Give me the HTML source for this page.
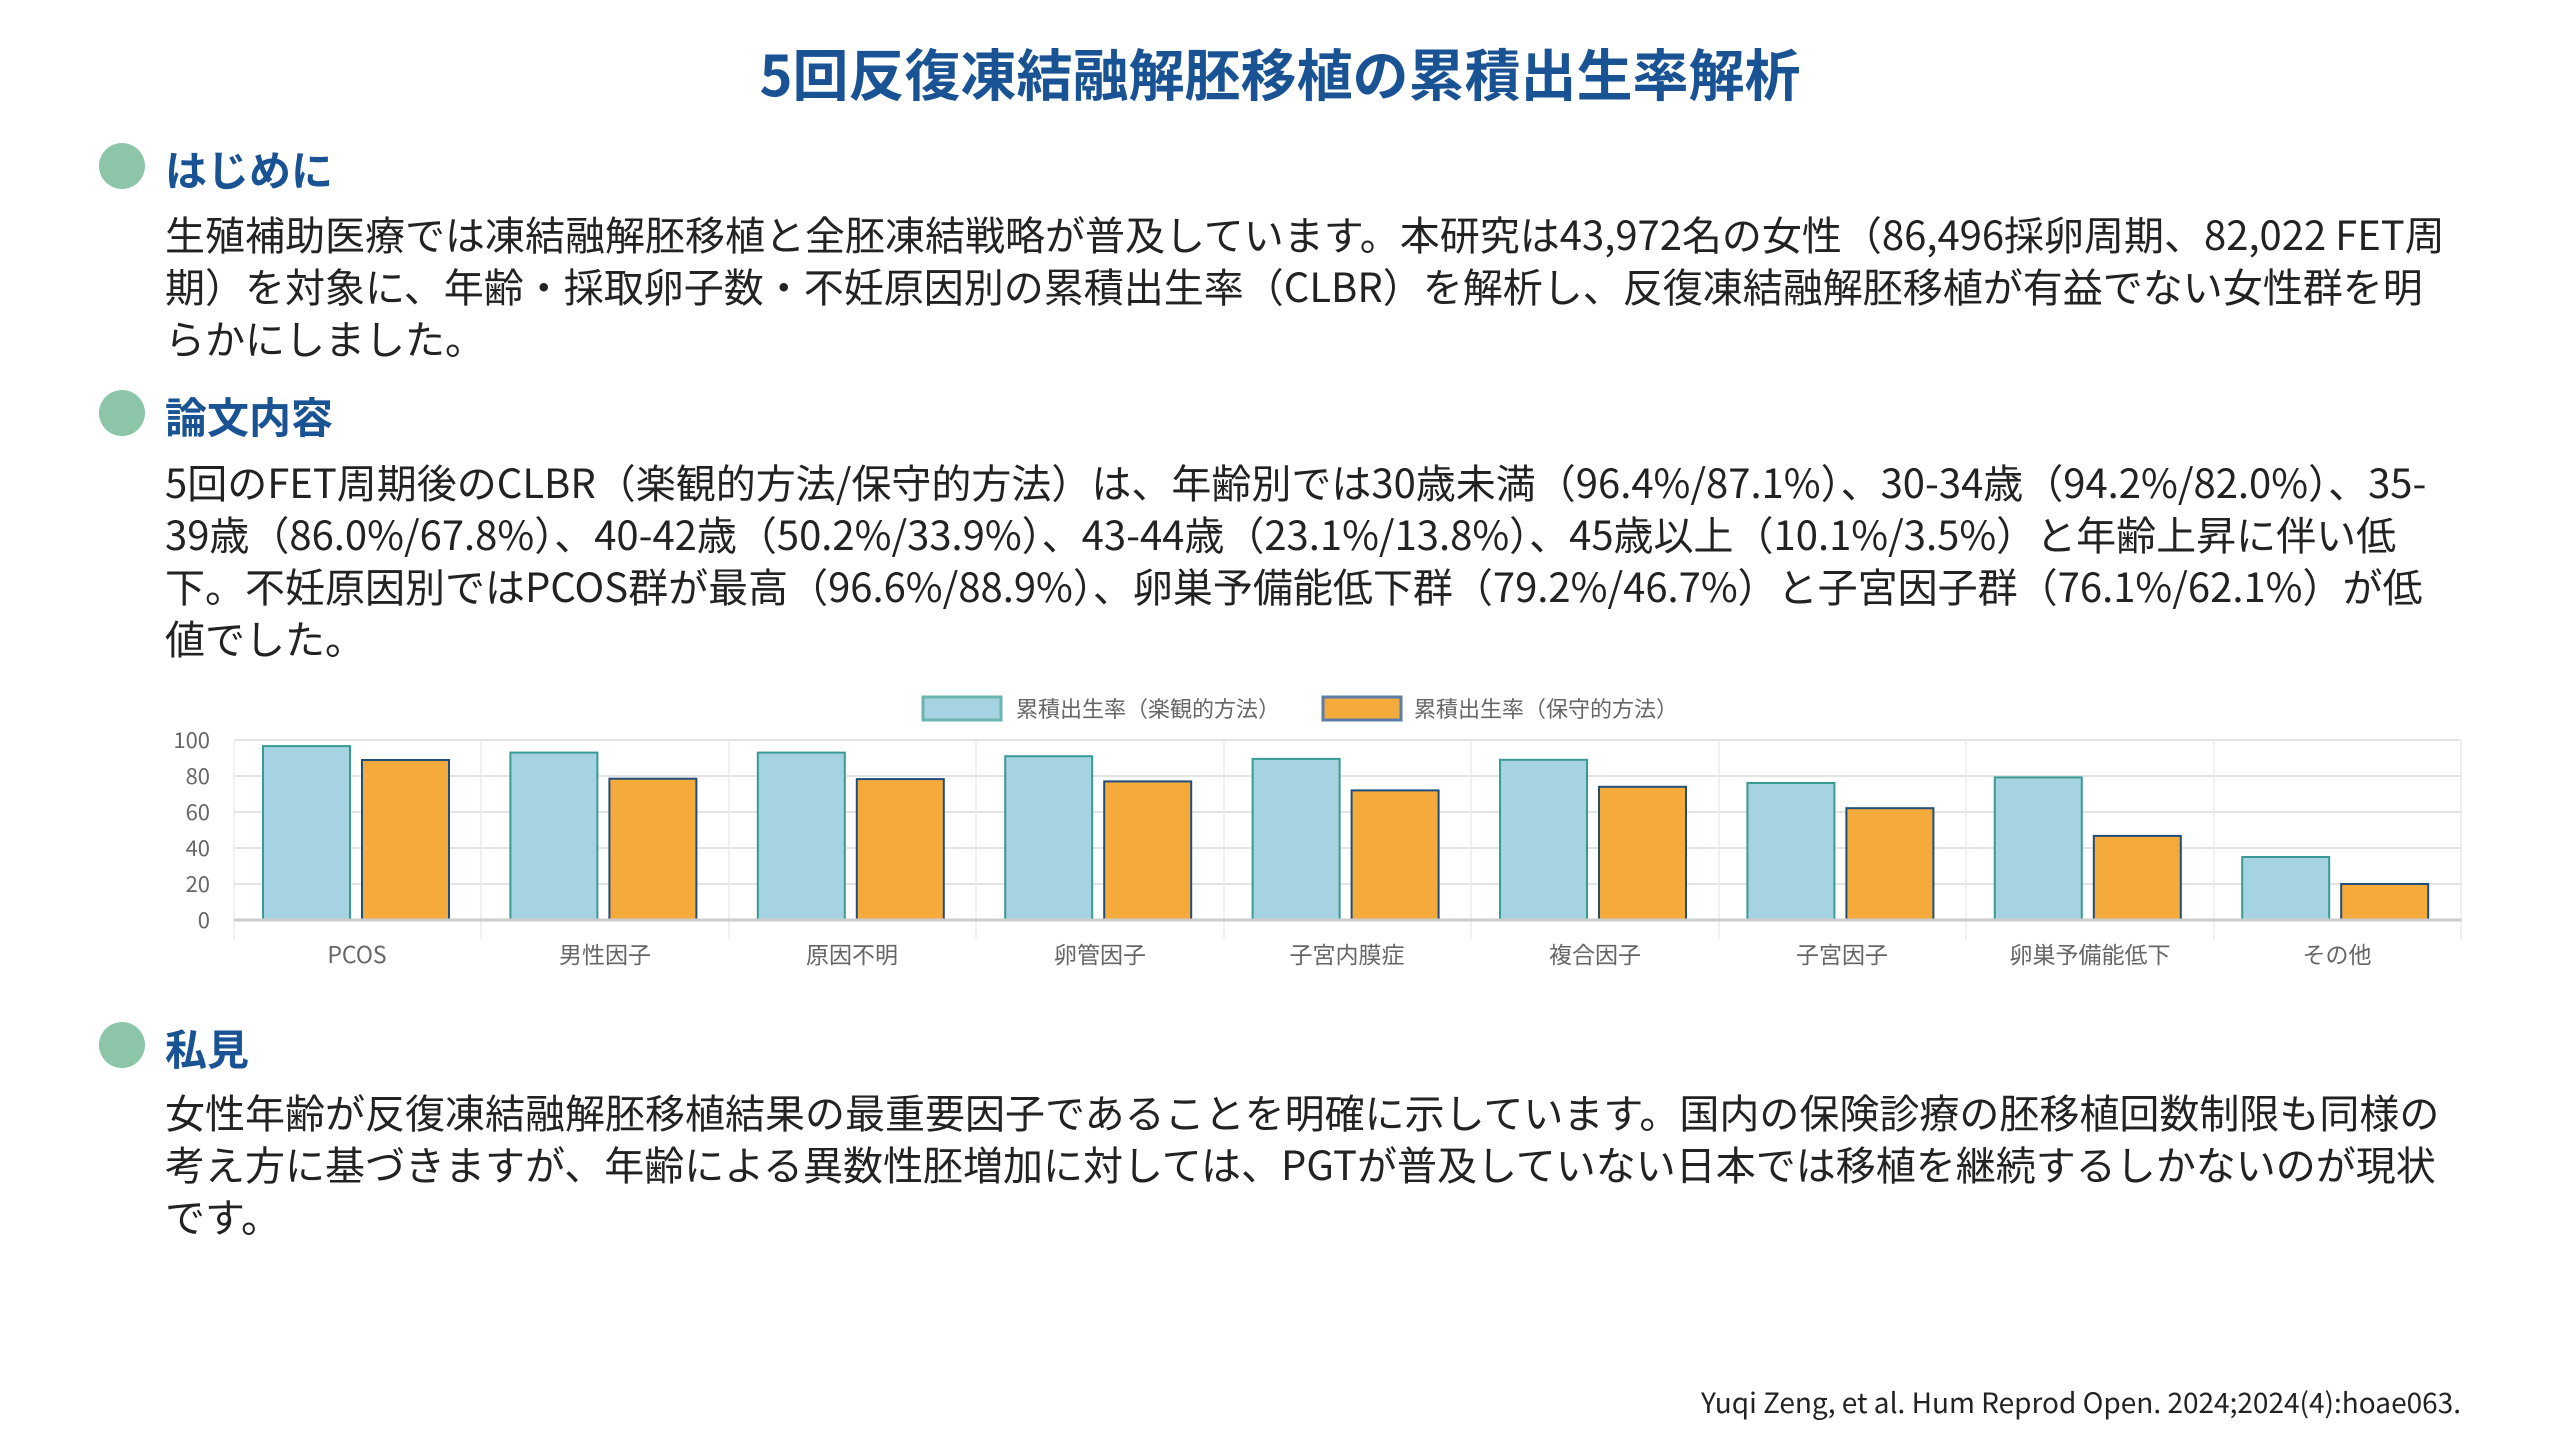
<!DOCTYPE html>
<html><head><meta charset="utf-8"><style>
html,body{margin:0;padding:0;background:#fff;}
body{width:2560px;height:1440px;position:relative;overflow:hidden;font-family:"Noto Sans CJK JP","Liberation Sans",sans-serif;}
.t{position:absolute;white-space:nowrap;}
.title{left:0;width:2560px;text-align:center;top:32px;font-size:56px;font-weight:bold;color:#1a5394;}
.dot{position:absolute;left:99px;width:46px;height:46px;border-radius:50%;background:#8cc5a8;}
.h{font-size:42px;font-weight:bold;color:#1a5394;left:165px;}
.b{font-size:40px;color:#222;left:165px;line-height:52px;}
</style></head><body>
<div class="t title">5回反復凍結融解胚移植の累積出生率解析</div>

<div class="dot" style="top:143px"></div>
<div class="t h" style="top:138px">はじめに</div>
<div class="t b" style="top:207px">生殖補助医療では凍結融解胚移植と全胚凍結戦略が普及しています。本研究は43,972名の女性（86,496採卵周期、82,022 FET周<br>期）を対象に、年齢・採取卵子数・不妊原因別の累積出生率（CLBR）を解析し、反復凍結融解胚移植が有益でない女性群を明<br>らかにしました。</div>

<div class="dot" style="top:390px"></div>
<div class="t h" style="top:385px">論文内容</div>
<div class="t b" style="top:455px">5回のFET周期後のCLBR（楽観的方法/保守的方法）は、年齢別では30歳未満（96.4%/87.1%）、30-34歳（94.2%/82.0%）、35-<br>39歳（86.0%/67.8%）、40-42歳（50.2%/33.9%）、43-44歳（23.1%/13.8%）、45歳以上（10.1%/3.5%）と年齢上昇に伴い低<br>下。不妊原因別ではPCOS群が最高（96.6%/88.9%）、卵巣予備能低下群（79.2%/46.7%）と子宮因子群（76.1%/62.1%）が低<br>値でした。</div>

<svg style="position:absolute;left:0;top:680px" width="2560" height="300" xmlns="http://www.w3.org/2000/svg" font-family="Noto Sans CJK JP, Liberation Sans, sans-serif">
<rect x="923" y="17" width="78" height="23" fill="#a6d3e2" stroke="#6bb5b0" stroke-width="3"/>
<text x="1016" y="37" font-size="22" fill="#666">累積出生率（楽観的方法）</text>
<rect x="1323" y="17" width="78" height="23" fill="#f5ab3c" stroke="#5a7ea8" stroke-width="3"/>
<text x="1414" y="37" font-size="22" fill="#666">累積出生率（保守的方法）</text>
<g stroke="#e4e4e4" stroke-width="2">
<line x1="234" y1="60" x2="2461" y2="60"/><line x1="234" y1="96" x2="2461" y2="96"/><line x1="234" y1="132" x2="2461" y2="132"/><line x1="234" y1="168" x2="2461" y2="168"/><line x1="234" y1="204" x2="2461" y2="204"/>
</g>
<g stroke="#ececec" stroke-width="1.5">
<line x1="234" y1="60" x2="234" y2="260"/><line x1="481" y1="60" x2="481" y2="260"/><line x1="729" y1="60" x2="729" y2="260"/><line x1="976" y1="60" x2="976" y2="260"/><line x1="1224" y1="60" x2="1224" y2="260"/><line x1="1471" y1="60" x2="1471" y2="260"/><line x1="1719" y1="60" x2="1719" y2="260"/><line x1="1966" y1="60" x2="1966" y2="260"/><line x1="2214" y1="60" x2="2214" y2="260"/><line x1="2461" y1="60" x2="2461" y2="260"/>
</g>
<g font-size="22" fill="#666" text-anchor="end">
<text x="210" y="68">100</text><text x="210" y="104">80</text><text x="210" y="140">60</text><text x="210" y="176">40</text><text x="210" y="212">20</text><text x="210" y="248">0</text>
</g>
<g fill="#a6d3e2" stroke="#3a9a94" stroke-width="2">
<rect x="263" y="66.1" width="87" height="173.9"/>
<rect x="510.4" y="72.6" width="87" height="167.4"/>
<rect x="757.8" y="72.6" width="87" height="167.4"/>
<rect x="1005.2" y="76.2" width="87" height="163.8"/>
<rect x="1252.6" y="78.9" width="87" height="161.1"/>
<rect x="1500" y="79.8" width="87" height="160.2"/>
<rect x="1747.4" y="103" width="87" height="137"/>
<rect x="1994.8" y="97.4" width="87" height="142.6"/>
<rect x="2242.2" y="177" width="87" height="63"/>
</g>
<g fill="#f5ab3c" stroke="#1f4e79" stroke-width="2">
<rect x="362" y="80" width="87" height="160"/>
<rect x="609.4" y="98.7" width="87" height="141.3"/>
<rect x="856.8" y="99.1" width="87" height="140.9"/>
<rect x="1104.2" y="101.4" width="87" height="138.6"/>
<rect x="1351.6" y="110.4" width="87" height="129.6"/>
<rect x="1599" y="106.8" width="87" height="133.2"/>
<rect x="1846.4" y="128.2" width="87" height="111.8"/>
<rect x="2093.8" y="155.9" width="87" height="84.1"/>
<rect x="2341.2" y="204" width="87" height="36"/>
</g>
<line x1="234" y1="240" x2="2461" y2="240" stroke="#ccc" stroke-width="3"/>
<g font-size="23" fill="#666" text-anchor="middle">
<text x="357" y="283">PCOS</text><text x="605" y="283">男性因子</text><text x="852" y="283">原因不明</text><text x="1100" y="283">卵管因子</text><text x="1347" y="283">子宮内膜症</text><text x="1595" y="283">複合因子</text><text x="1842" y="283">子宮因子</text><text x="2090" y="283">卵巣予備能低下</text><text x="2337" y="283">その他</text>
</g>
</svg>

<div class="dot" style="top:1022px"></div>
<div class="t h" style="top:1017px">私見</div>
<div class="t b" style="top:1085px">女性年齢が反復凍結融解胚移植結果の最重要因子であることを明確に示しています。国内の保険診療の胚移植回数制限も同様の<br>考え方に基づきますが、年齢による異数性胚増加に対しては、PGTが普及していない日本では移植を継続するしかないのが現状<br>です。</div>

<div class="t" style="right:99px;top:1382px;font-size:28px;color:#222;">Yuqi Zeng, et al. Hum Reprod Open. 2024;2024(4):hoae063.</div>
</body></html>
